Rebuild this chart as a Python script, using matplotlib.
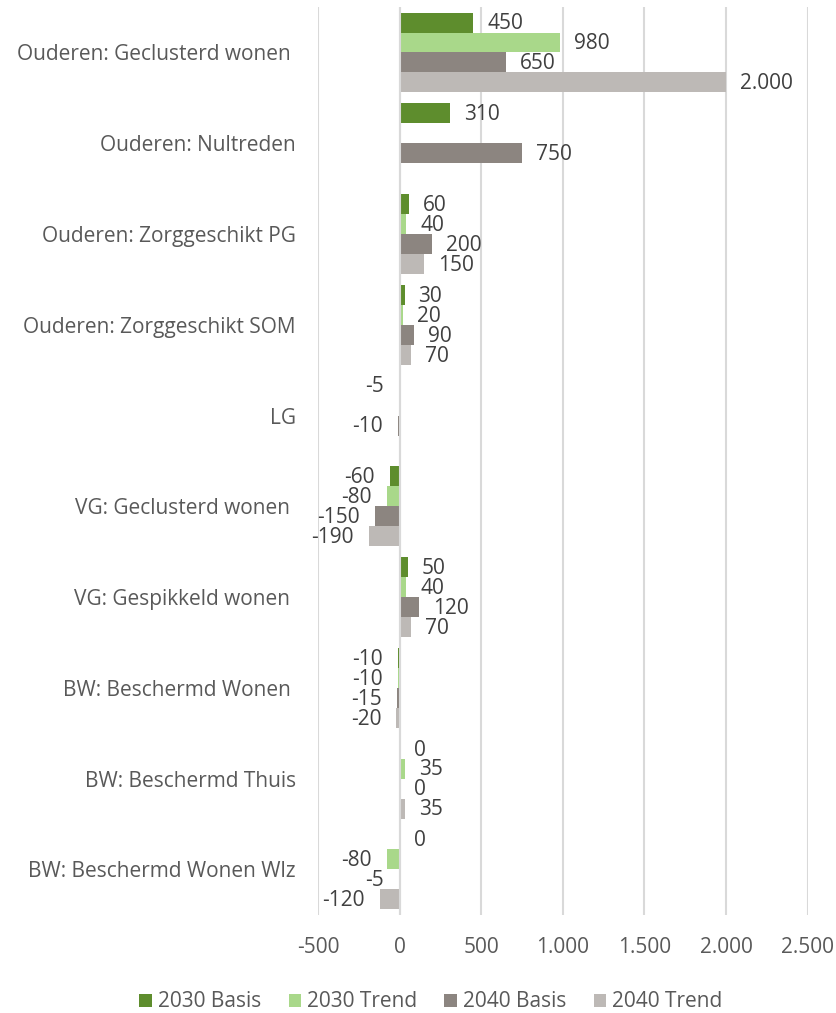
import numpy as np
import matplotlib.pyplot as plt
from matplotlib.ticker import FuncFormatter

plt.rcParams['font.family'] = ['Open Sans', 'DejaVu Sans']

categories = [
    "Ouderen: Geclusterd wonen ",
    "Ouderen: Nultreden",
    "Ouderen: Zorggeschikt PG",
    "Ouderen: Zorggeschikt SOM",
    "LG",
    "VG: Geclusterd wonen ",
    "VG: Gespikkeld wonen ",
    "BW: Beschermd Wonen ",
    "BW: Beschermd Thuis",
    "BW: Beschermd Wonen Wlz",
]
series_names = ["2030 Basis", "2030 Trend", "2040 Basis", "2040 Trend"]
basis_2030 = [450, 310, 60, 30, -5, -60, 50, -10, 0, 0]
trend_2030 = [980, np.nan, 40, 20, np.nan, -80, 40, -10, 35, -80]
basis_2040 = [650, 750, 200, 90, -10, -150, 120, -15, 0, -5]
trend_2040 = [2000, np.nan, 150, 70, np.nan, -190, 70, -20, 35, -120]
colors = ["#5E8D2D", "#A9D88A", "#8C8580", "#BDB9B6"]
x_ticks = [-500, 0, 500, 1000, 1500, 2000, 2500]

TEXT = "#595959"
FS = 15


def nl(v):
    # Dutch thousands separator
    return f"{int(v):,}".replace(",", ".")


fig = plt.figure(figsize=(8.37, 10.13), dpi=100)
ax = fig.add_axes([0.380, 0.097, 0.585, 0.896])

series = [basis_2030, trend_2030, basis_2040, trend_2040]
n = len(categories)
y = np.arange(n)
h = 0.22
for i, (vals, name, col) in enumerate(zip(series, series_names, colors)):
    pos = y - 1.5 * h + i * h
    vals = np.array(vals, dtype=float)
    ax.barh(pos, np.nan_to_num(vals), height=h, color=col, label=name, zorder=3)
    for p, v in zip(pos, vals):
        if np.isnan(v):
            continue
        if v >= 0:
            ax.annotate(nl(v), (v, p), xytext=(10, -1), textcoords="offset points",
                        ha="left", va="center", fontsize=FS, color="#404040")
        else:
            ax.annotate(nl(v), (v, p), xytext=(-11, -1), textcoords="offset points",
                        ha="right", va="center", fontsize=FS, color="#404040")

ax.set_xlim(-500, 2500)
ax.set_ylim(n - 0.5, -0.5)
ax.set_xticks(x_ticks)
ax.xaxis.set_major_formatter(FuncFormatter(lambda v, _: nl(v)))
ax.set_yticks(y)
ax.set_yticklabels(categories)
ax.tick_params(axis="both", length=0, labelsize=FS, colors=TEXT)
ax.tick_params(axis="x", pad=16)
ax.tick_params(axis="y", pad=16)
ax.grid(axis="x", color="#D9D9D9", linewidth=1.5, zorder=0)
ax.axvline(0, color="#D9D9D9", linewidth=1.5, zorder=4)
for s in ax.spines.values():
    s.set_visible(False)

fig.legend(loc="lower center", bbox_to_anchor=(0.515, -0.018), ncol=4, frameon=False,
           fontsize=FS, labelcolor=TEXT, handlelength=0.6, handleheight=0.6,
           handletextpad=0.3, columnspacing=1.3)

fig.savefig("out.png", dpi=100)
